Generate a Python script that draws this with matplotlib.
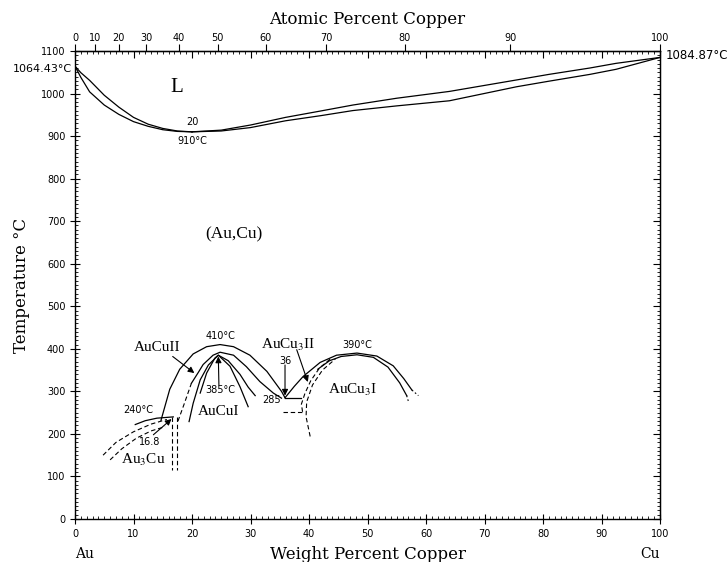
import matplotlib.pyplot as plt
import numpy as np
from matplotlib.ticker import MultipleLocator, NullLocator

plt.rcParams['font.family'] = ['DejaVu Sans']
plt.rcParams['mathtext.fontset'] = 'stix'

AU_MASS = 196.967
CU_MASS = 63.546

# liquidus / solidus, gold side of the 910 C minimum
liq_left_w = [0, 1, 2.5, 5, 7.5, 10, 12.5, 15, 17.5, 20]
liq_left_T = [1064.4, 1049, 1031, 996, 968, 944, 928, 918, 912, 910]
sol_left_T = [1064.4, 1038, 1004, 973, 951, 934, 923, 915, 911, 910]

# liquidus / solidus, copper side
liq_right_w = [20, 25, 30, 36, 42, 47.5, 55, 64, 75.5, 81, 88, 92.5, 100]
liq_right_T = [910, 914, 926, 944, 959, 973, 989, 1005, 1032, 1045, 1060, 1071, 1084.9]
sol_right_T = [910, 912, 920, 936, 948, 960, 971, 983, 1016, 1029, 1045, 1057, 1084.9]

# Au3Cu
au3cu_top_w = [10.3, 12, 14, 16.8]
au3cu_top_T = [222, 231, 237, 240]
au3cu_d1_w = [4.8, 7, 10, 13, 15.7]
au3cu_d1_T = [150, 180, 205, 223, 234]
au3cu_d2_w = [6.0, 8, 10.5, 13, 15.4]
au3cu_d2_T = [139, 165, 190, 207, 217]
au3cu_vert_w = [16.5, 17.4]
au3cu_vert_T = [240, 115]

# AuCuII
aucu2_out_w = [14.7, 16.2, 17.9, 20.2, 22.5, 24.8, 27.1, 29.9, 32.8, 35.3, 35.9]
aucu2_out_T = [232, 305, 352, 388, 405, 410, 405, 385, 347, 300, 285]
aucu2_in_dash_w = [17.6, 18.6, 19.9]
aucu2_in_dash_T = [230, 268, 319]
aucu2_in_w = [19.9, 21.1, 21.9, 23.6, 24.8, 27.1, 29.3, 31.6, 33.9, 35.3]
aucu2_in_T = [319, 345, 363, 385, 392, 385, 358, 323, 296, 284]

# AuCuI
aucu1_out_w = [19.5, 20.2, 21.4, 22.8, 24.5, 26.2, 28.2, 29.6, 30.8]
aucu1_out_T = [229, 272, 327, 362, 385, 372, 340, 310, 290]
aucu1_in_w = [21.4, 22.5, 23.9, 24.5, 26.5, 28.2, 29.6]
aucu1_in_T = [296, 343, 378, 385, 359, 311, 264]

# AuCu3 and the 285 C reaction
peri_w = [35.9, 38.7]
peri_T = [285, 285]
peri_low_w = [35.6, 38.9]
peri_low_T = [252, 252]
aucu3_out_w = [35.9, 37.5, 39.0, 41.9, 44.7, 48.2, 51.6, 54.4, 56.2, 57.6]
aucu3_out_T = [285, 312, 335, 368, 385, 390, 383, 360, 330, 303]
aucu3_in_w = [41.5, 43.5, 45.5, 48.2, 51, 53.5, 55.5, 56.7]
aucu3_in_T = [352, 372, 382, 386, 380, 357, 320, 290]
aucu3_tail1_w = [57.6, 58.7]
aucu3_tail1_T = [303, 290]
aucu3_tail2_w = [56.7, 57.0]
aucu3_tail2_T = [290, 276]
aucu3_dA_w = [38.9, 38.7, 39.3, 40.3, 41.8, 43.8]
aucu3_dA_T = [252, 270, 295, 325, 355, 378]
aucu3_dB_w = [40.2, 39.5, 39.6, 40.6, 42.3, 44.5]
aucu3_dB_T = [194, 240, 275, 315, 350, 376]

at_ticks = list(range(0, 101, 10))


def wt_to_at(w):
    w = np.clip(np.asarray(w, dtype=float), 0, 100)
    cu = w / CU_MASS
    au = (100 - w) / AU_MASS
    return 100 * cu / np.maximum(cu + au, 1e-12)


def at_to_wt(a):
    a = np.clip(np.asarray(a, dtype=float), 0, 100)
    cu = a * CU_MASS
    au = (100 - a) * AU_MASS
    return 100 * cu / np.maximum(cu + au, 1e-12)


def draw_lines(ax):
    solid = dict(color='black', lw=0.9)
    dashed = dict(color='black', lw=0.8, dashes=(4, 2.5))
    dotted = dict(color='black', lw=0.8, dashes=(1.5, 2))

    ax.plot(liq_left_w, liq_left_T, **solid)
    ax.plot(liq_left_w, sol_left_T, **solid)
    ax.plot(liq_right_w, liq_right_T, **solid)
    ax.plot(liq_right_w, sol_right_T, **solid)

    ax.plot(au3cu_top_w, au3cu_top_T, **solid)
    ax.plot(au3cu_d1_w, au3cu_d1_T, **dashed)
    ax.plot(au3cu_d2_w, au3cu_d2_T, **dashed)
    for w in au3cu_vert_w:
        ax.plot([w, w], au3cu_vert_T, **dashed)

    ax.plot(aucu2_out_w, aucu2_out_T, **solid)
    ax.plot(aucu2_in_dash_w, aucu2_in_dash_T, **dashed)
    ax.plot(aucu2_in_w, aucu2_in_T, **solid)
    ax.plot(aucu1_out_w, aucu1_out_T, **solid)
    ax.plot(aucu1_in_w, aucu1_in_T, **solid)

    ax.plot(peri_w, peri_T, **solid)
    ax.plot(peri_low_w, peri_low_T, **dashed)
    ax.plot(aucu3_out_w, aucu3_out_T, **solid)
    ax.plot(aucu3_in_w, aucu3_in_T, **solid)
    ax.plot(aucu3_tail1_w, aucu3_tail1_T, **dotted)
    ax.plot(aucu3_tail2_w, aucu3_tail2_T, **dotted)
    ax.plot(aucu3_dA_w, aucu3_dA_T, **dashed)
    ax.plot(aucu3_dB_w, aucu3_dB_T, **dashed)


def draw_labels(ax):
    serif = ['Liberation Serif', 'DejaVu Serif']
    small = dict(fontsize=7, ha='center', va='center')
    phase = dict(fontsize=11, ha='center', va='center', family=serif)

    ax.text(17.4, 1015, 'L', fontsize=15, ha='center', va='center', family=serif)
    ax.text(20, 932, '20', **small)
    ax.text(20, 888, '910\u00b0C', **small)
    ax.text(27.1, 668, '(Au,Cu)', fontsize=12.5, ha='center', va='center', family=serif)

    ax.text(14.0, 402, 'AuCuII', **phase)
    ax.text(24.8, 430, '410\u00b0C', **small)
    ax.text(24.8, 303, '385\u00b0C', **small)
    ax.text(24.5, 253, 'AuCuI', **phase)
    ax.text(36.4, 410, 'AuCu$_3$II', **phase)
    ax.text(35.9, 372, '36', **small)
    ax.text(33.6, 280, '285', **small)
    ax.text(48.2, 408, '390\u00b0C', **small)
    ax.text(47.5, 304, 'AuCu$_3$I', **phase)
    ax.text(10.8, 256, '240\u00b0C', **small)
    ax.text(12.8, 182, '16.8', **small)
    ax.text(11.7, 139, 'Au$_3$Cu', **phase)

    ax.text(-0.6, 1058, '1064.43\u00b0C', fontsize=8, ha='right', va='center')
    ax.text(101.0, 1090, '1084.87\u00b0C', fontsize=8.5, ha='left', va='center')

    arrow = dict(arrowstyle='-|>', color='black', lw=0.8, mutation_scale=9,
                 shrinkA=0, shrinkB=0)
    ax.annotate('', xy=(20.4, 343), xytext=(16.7, 382), arrowprops=arrow)
    ax.annotate('', xy=(24.5, 382), xytext=(24.6, 315), arrowprops=arrow)
    ax.annotate('', xy=(16.5, 235), xytext=(13.4, 198), arrowprops=arrow)
    ax.annotate('', xy=(35.9, 290), xytext=(35.9, 362), arrowprops=arrow)
    ax.annotate('', xy=(39.8, 322), xytext=(37.9, 398), arrowprops=arrow)


def setup_axes(ax):
    ax.set_xlim(0, 100)
    ax.set_ylim(0, 1100)
    for side in ax.spines.values():
        side.set_linewidth(1.0)

    ax.xaxis.set_major_locator(MultipleLocator(10))
    ax.xaxis.set_minor_locator(MultipleLocator(1))
    ax.yaxis.set_major_locator(MultipleLocator(100))
    ax.yaxis.set_minor_locator(MultipleLocator(10))
    ax.tick_params(which='major', direction='inout', length=7, width=0.8, labelsize=7)
    ax.tick_params(which='minor', direction='in', length=2.5, width=0.6)

    # weight percent ticks along the top edge, pointing inwards
    top = ax.secondary_xaxis('top')
    top.xaxis.set_major_locator(MultipleLocator(10))
    top.xaxis.set_minor_locator(MultipleLocator(1))
    top.tick_params(which='major', direction='in', length=5, width=0.8, labeltop=False)
    top.tick_params(which='minor', direction='in', length=2.5, width=0.6)

    # atomic percent scale
    atom = ax.secondary_xaxis('top', functions=(wt_to_at, at_to_wt))
    atom.set_xticks(at_ticks)
    atom.xaxis.set_minor_locator(NullLocator())
    atom.tick_params(which='major', direction='out', length=5, width=0.8, labelsize=7, pad=1)
    atom.set_xlabel('Atomic Percent Copper', family='DejaVu Serif', fontsize=12, labelpad=6)

    right = ax.secondary_yaxis('right')
    right.yaxis.set_major_locator(MultipleLocator(100))
    right.yaxis.set_minor_locator(MultipleLocator(10))
    right.tick_params(which='major', direction='in', length=5, width=0.8, labelright=False)
    right.tick_params(which='minor', direction='in', length=2.5, width=0.6)

    ax.set_xlabel('Weight Percent Copper', family='DejaVu Serif', fontsize=12, labelpad=5)
    ax.set_ylabel('Temperature \u00b0C', family='DejaVu Serif', fontsize=12, labelpad=8)

    ax.text(0, -0.075, 'Au', transform=ax.get_xaxis_transform(), family='DejaVu Serif',
            fontsize=10, ha='left', va='center')
    ax.text(100, -0.075, 'Cu', transform=ax.get_xaxis_transform(), family='DejaVu Serif',
            fontsize=10, ha='right', va='center')


def main() -> None:
    fig = plt.figure(figsize=(7.28, 5.62), dpi=100)
    ax = fig.add_axes([75 / 728, 1 - 519 / 562, 585 / 728, 468 / 562])
    setup_axes(ax)
    draw_lines(ax)
    draw_labels(ax)
    fig.savefig('out.png', dpi=100)


if __name__ == '__main__':
    main()
